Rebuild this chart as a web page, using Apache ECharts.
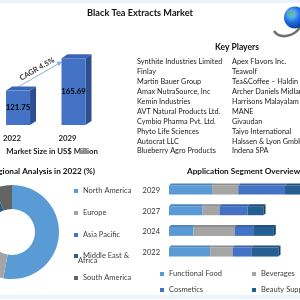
<!DOCTYPE html>
<html><head><meta charset="utf-8">
<script src="https://cdn.jsdelivr.net/npm/echarts@6/dist/echarts.min.js"></script>
<style>html,body{margin:0;padding:0;background:#fff}#c{width:300px;height:300px}</style>
</head><body><div id="c"></div>
<script>
// ---- data ----
const marketYears = ['2022', '2029'];
const marketValues = [121.75, 165.69];
const cagrText = 'CAGR 4.5%';

const keyPlayersLeft = ['Synthite Industries Limited','Finlay','Martin Bauer Group','Amax NutraSource, Inc','Kemin Industries','AVT Natural Products Ltd.','Cymbio Pharma Pvt. Ltd.','Phyto Life Sciences','Autocrat LLC','Blueberry Agro Products'];
const keyPlayersRight = ['Apex Flavors Inc.','Teawolf','Tea&Coffee – Haldin Pacific Semesta','Archer Daniels Midland','Harrisons Malayalam','MANE','Givaudan','Taiyo International','Halssen & Lyon GmbH','Indena SPA'];

const regions = ['North America','Europe','Asia Pacific','Middle East & Africa','South America'];
const regionShares = [53, 18, 15, 8, 6];
const regionColors = ['#5B9BD5','#A5A5A5','#4472C4','#255E91','#636363'];

const appYears = ['2022','2024','2027','2029'];
const appSegments = ['Functional Food','Beverages','Cosmetics','Beauty Supplements'];
const functionalFood = [44, 26, 36, 46];
const beverages = [24, 44, 18, 28];
const cosmetics = [20, 20, 30, 50];
const beautySupplements = [29, 22, 17, 20];
const appColors = ['#5B9BD5','#A5A5A5','#4472C4','#255E91'];
const appTopColors = ['#4C86BC','#8E8E8E','#3A63AB','#1F4F7B'];

const FONT = 'Lato, "Noto Sans", sans-serif';
const barMin = 75;

// ---- build ----
const chart = echarts.init(document.getElementById('c'), null, {renderer:'canvas'});

const segValues = [functionalFood, beverages, cosmetics, beautySupplements];
const appSeries = appSegments.map((name, si) => {
  const data = appYears.map((y, i) => {
    let s = 0;
    for (let k = 0; k < si; k++) s += segValues[k][i];
    return [i, s, s + segValues[si][i]];
  });
  return {
    type: 'custom', name, xAxisIndex: 1, yAxisIndex: 1,
    itemStyle: {color: appColors[si]},
    encode: {y: 0, x: [1, 2]},
    data,
    renderItem: function (params, api) {
      const cat = api.value(0);
      const p0 = api.coord([api.value(1), cat]);
      const p1 = api.coord([api.value(2), cat]);
      const cy = p0[1] - 0.5, h = 9, d = 2;
      const ch = [
        {type:'rect', shape:{x:p0[0], y:cy - h/2, width:p1[0]-p0[0], height:h}, style:{fill: appColors[si]}},
        {type:'polygon', shape:{points:[[p0[0],cy-h/2],[p0[0]+d,cy-h/2-d],[p1[0]+d,cy-h/2-d],[p1[0],cy-h/2]]}, style:{fill: appTopColors[si]}}
      ];
      if (si === appSegments.length - 1) {
        ch.push({type:'polygon', shape:{points:[[p1[0],cy-h/2],[p1[0]+d,cy-h/2-d],[p1[0]+d,cy+h/2-d],[p1[0],cy+h/2]]}, style:{fill:'#173F63'}});
      }
      return {type:'group', children: ch};
    }
  };
});

const playerTexts = [];
keyPlayersLeft.forEach((t, i) => playerTexts.push({type:'text', left:137, top:58.5 + i*9.9, style:{text:t, font:'7.3px ' + FONT, fill:'#222'}}));
keyPlayersRight.forEach((t, i) => playerTexts.push({type:'text', left:232, top:58.5 + i*9.9, style:{text:t, font:'7.3px ' + FONT, fill:'#222'}}));

const legendText = {fontSize:7.5, color:'#404040', fontFamily:FONT, lineHeight:9};

const option = {
  animation: false,
  textStyle: {fontFamily: FONT},
  grid: [
    {left: 15, width: 58.5, top: 33, height: 92},
    {left: 169, width: 140, top: 180.2, height: 82.7}
  ],
  xAxis: [
    {gridIndex:0, type:'category', data: marketYears, boundaryGap:false,
     axisLine:{show:false}, axisTick:{show:false},
     axisLabel:{margin:9, padding:[0,12,0,0], fontSize:7.8, fontWeight:'bold', color:'#222', fontFamily:FONT}},
    {gridIndex:1, type:'value', min:0, max:140, show:false}
  ],
  yAxis: [
    {gridIndex:0, type:'value', min: barMin, max:200, show:false},
    {gridIndex:1, type:'category', data: appYears,
     axisLine:{show:false}, axisTick:{show:false}, splitLine:{show:false},
     axisLabel:{margin:9, fontSize:7.5, color:'#333', fontFamily:FONT}}
  ],
  legend: [
    {data: regions.slice(0,3), orient:'vertical', left:69, top:181.5, itemGap:13, itemWidth:4, itemHeight:4, icon:'rect', textStyle:legendText},
    {data: [regions[3]], orient:'vertical', left:69, top:246.5, itemWidth:4, itemHeight:4, icon:'rect',
     formatter: () => 'Middle East &', textStyle:legendText},
    {data: [regions[4]], orient:'vertical', left:69, top:268.5, itemWidth:4, itemHeight:4, icon:'rect', textStyle:legendText},
    {data: [appSegments[0], appSegments[2]], orient:'vertical', left:155, top:264.5, itemGap:7, itemWidth:4, itemHeight:4, icon:'rect', textStyle:legendText},
    {data: [appSegments[1], appSegments[3]], orient:'vertical', left:247, top:264.5, itemGap:7, itemWidth:4, itemHeight:4, icon:'rect', textStyle:legendText}
  ],
  graphic: [
    {type:'rect', shape:{x:0, y:0, width:300, height:3}, style:{fill:'#EDF3FB'}},
    {type:'rect', shape:{x:0, y:295, width:300, height:4}, style:{fill:'#EDF3FB'}},
    {type:'text', x:140, y:13, style:{text:'Black Tea Extracts Market', font:'bold 9.2px ' + FONT, fill:'#111', align:'center', verticalAlign:'middle'}},
    // globe
    {type:'bezierCurve', shape:{x1:274, y1:31, x2:300, y2:27, cpx1:280, cpy1:40, cpx2:295, cpy2:36}, style:{stroke:'#6E6E6E', lineWidth:2.5, fill:null}},
    {type:'circle', shape:{cx:295, cy:17.5, r:11}, style:{fill:{type:'radial', x:0.35, y:0.35, r:0.75, colorStops:[{offset:0,color:'#8FD6FF'},{offset:0.5,color:'#1C6FE0'},{offset:1,color:'#0A2E8A'}]}}},
    {type:'circle', shape:{cx:291, cy:14, r:3}, style:{fill:'#4FB36B', opacity:0.6}},
    // CAGR arrow
    {type:'line', shape:{x1:18, y1:87, x2:58, y2:64}, style:{stroke:'#7FB2E5', lineWidth:1}},
    {type:'polygon', shape:{points:[[62,61.5],[58.96,66.16],[56.44,61.84]]}, style:{fill:'#7FB2E5'}},
    {type:'text', x:37, y:69, rotation:Math.PI/6, style:{text:cagrText, font:'bold 7.5px ' + FONT, fill:'#333', align:'center', verticalAlign:'middle'}},
    {type:'text', x:52, y:151, style:{text:'Market Size in US$ Million', font:'bold 7.8px ' + FONT, fill:'#222', align:'center', verticalAlign:'middle'}},
    {type:'text', x:237, y:47, style:{text:'Key Players', font:'bold 8.5px ' + FONT, fill:'#111', align:'center', verticalAlign:'middle'}},
    {type:'text', x:95, y:171, style:{text:'Regional Analysis in 2022 (%)', font:'bold 8.2px ' + FONT, fill:'#111', align:'right', verticalAlign:'middle'}},
    {type:'text', x:78, y:261, style:{text:'Africa', font:'7.5px ' + FONT, fill:'#404040', align:'left', verticalAlign:'middle'}},
    {type:'text', x:187, y:171, style:{text:'Application Segment Overview', font:'bold 8.2px ' + FONT, fill:'#111', align:'left', verticalAlign:'middle'}}
  ].concat(playerTexts),
  series: [
    {
      type:'custom', xAxisIndex:0, yAxisIndex:0,
      data: marketYears.map((y, i) => [i, marketValues[i]]),
      encode:{x:0, y:1},
      renderItem: function (params, api) {
        const c = api.coord([api.value(0), api.value(1)]);
        const b = api.coord([api.value(0), barMin]);
        const w = 24, dx = 6, dy = 4;
        const l = c[0] - w/2, r = c[0] + w/2, t = c[1], bt = b[1];
        return {type:'group', children:[
          {type:'polygon', shape:{points:[[r,t],[r+dx,t-dy],[r+dx,bt-dy],[r,bt]]}, style:{fill:'#2E4F8F'}},
          {type:'polygon', shape:{points:[[l,t],[l+dx,t-dy],[r+dx,t-dy],[r,t]]}, style:{fill:'#3A64B4'}},
          {type:'rect', shape:{x:l, y:t, width:w, height:bt-t}, style:{fill:'#4472C4'}},
          {type:'text', x:c[0], y:(t+bt)/2, style:{text: api.value(1).toFixed(2), font:'bold 7.8px ' + FONT, fill:'#000', align:'center', verticalAlign:'middle'}}
        ]};
      }
    },
    {
      type:'pie', center:[12, 232], radius:[23, 47], startAngle:90, clockwise:true,
      label:{show:false}, labelLine:{show:false}, silent:true,
      data: regions.map((n, i) => ({name:n, value: regionShares[i], itemStyle:{color: regionColors[i]}}))
    }
  ].concat(appSeries)
};
chart.setOption(option);
</script>
</body></html>
